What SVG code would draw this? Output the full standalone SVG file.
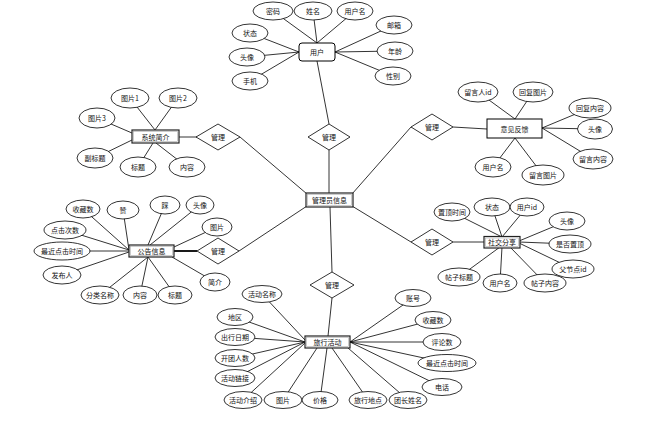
<svg xmlns="http://www.w3.org/2000/svg" width="654" height="427" viewBox="0 0 654 427">
<style>
.l{stroke:#000;stroke-width:0.8;fill:none}
.e{fill:#fff;stroke:#000;stroke-width:0.8}
.d{fill:#fff;stroke:#000;stroke-width:0.8}
.b{fill:#fff;stroke:#222;stroke-width:1.2}
.bi{fill:none;stroke:#999;stroke-width:0.5}
text{font-family:"Noto Sans CJK SC","Noto Sans",sans-serif;font-size:7px;fill:#111;text-anchor:middle;dominant-baseline:central}
</style>
<rect width="654" height="427" fill="#fff"/>
<g id="connectors">
<line class="l" x1="317" y1="43" x2="273" y2="11"/>
<line class="l" x1="317" y1="43" x2="313" y2="11"/>
<line class="l" x1="317" y1="43" x2="355" y2="11"/>
<line class="l" x1="299" y1="52" x2="250" y2="33"/>
<line class="l" x1="299" y1="52" x2="247" y2="57"/>
<line class="l" x1="299" y1="52" x2="250" y2="81"/>
<line class="l" x1="335" y1="52" x2="394" y2="25"/>
<line class="l" x1="335" y1="52" x2="395" y2="51"/>
<line class="l" x1="335" y1="52" x2="393" y2="76"/>
<line class="l" x1="317" y1="61" x2="329" y2="124"/>
<line class="l" x1="155" y1="130" x2="130" y2="98"/>
<line class="l" x1="155" y1="130" x2="178" y2="98"/>
<line class="l" x1="132" y1="133" x2="97" y2="118"/>
<line class="l" x1="132" y1="140" x2="95" y2="158"/>
<line class="l" x1="153" y1="143" x2="138" y2="167"/>
<line class="l" x1="156" y1="143" x2="187" y2="167"/>
<line class="l" x1="179" y1="137" x2="197" y2="137"/>
<line class="l" x1="515" y1="119" x2="478" y2="92"/>
<line class="l" x1="515" y1="119" x2="533" y2="92"/>
<line class="l" x1="542" y1="128" x2="590" y2="108"/>
<line class="l" x1="542" y1="128" x2="595" y2="129"/>
<line class="l" x1="542" y1="128" x2="593" y2="159"/>
<line class="l" x1="515" y1="138" x2="493" y2="167"/>
<line class="l" x1="515" y1="138" x2="543" y2="175"/>
<line class="l" x1="453" y1="127" x2="487" y2="129"/>
<line class="l" x1="129" y1="250" x2="83" y2="209"/>
<line class="l" x1="129" y1="250" x2="123" y2="210"/>
<line class="l" x1="148" y1="245" x2="165" y2="205"/>
<line class="l" x1="150" y1="245" x2="200" y2="205"/>
<line class="l" x1="174" y1="247" x2="217" y2="227"/>
<line class="l" x1="129" y1="250" x2="65" y2="230"/>
<line class="l" x1="129" y1="251" x2="62" y2="251"/>
<line class="l" x1="129" y1="252" x2="62" y2="275"/>
<line class="l" x1="148" y1="257" x2="100" y2="295"/>
<line class="l" x1="148" y1="257" x2="140" y2="295"/>
<line class="l" x1="148" y1="257" x2="175" y2="295"/>
<line class="l" x1="172" y1="257" x2="215" y2="282"/>
<line x1="174" y1="251" x2="197" y2="251" stroke="#000" stroke-width="1.8"/>
<line class="l" x1="502" y1="237" x2="452" y2="212"/>
<line class="l" x1="502" y1="237" x2="492" y2="207"/>
<line class="l" x1="502" y1="237" x2="527" y2="207"/>
<line class="l" x1="519" y1="241" x2="567" y2="221"/>
<line class="l" x1="519" y1="242" x2="570" y2="244"/>
<line class="l" x1="519" y1="243" x2="573" y2="269"/>
<line class="l" x1="510" y1="247" x2="545" y2="283"/>
<line class="l" x1="502" y1="247" x2="500" y2="283"/>
<line class="l" x1="500" y1="247" x2="459" y2="277"/>
<line class="l" x1="453" y1="242" x2="485" y2="242"/>
<line class="l" x1="305" y1="340" x2="262" y2="294"/>
<line class="l" x1="305" y1="342" x2="235" y2="317"/>
<line class="l" x1="305" y1="342" x2="235" y2="337"/>
<line class="l" x1="305" y1="342" x2="235" y2="358"/>
<line class="l" x1="305" y1="342" x2="235" y2="378"/>
<line class="l" x1="305" y1="343" x2="243" y2="400"/>
<line class="l" x1="317" y1="348" x2="283" y2="400"/>
<line class="l" x1="327" y1="348" x2="320" y2="400"/>
<line class="l" x1="332" y1="348" x2="368" y2="400"/>
<line class="l" x1="348" y1="348" x2="408" y2="400"/>
<line class="l" x1="350" y1="342" x2="442" y2="387"/>
<line class="l" x1="350" y1="342" x2="447" y2="363"/>
<line class="l" x1="350" y1="342" x2="442" y2="342"/>
<line class="l" x1="350" y1="342" x2="433" y2="320"/>
<line class="l" x1="350" y1="342" x2="413" y2="298"/>
<line class="l" x1="332" y1="298" x2="328" y2="336"/>
<line class="l" x1="329" y1="193" x2="329" y2="150"/>
<line class="l" x1="307" y1="194" x2="240" y2="137"/>
<line class="l" x1="307" y1="206" x2="239" y2="251"/>
<line class="l" x1="352" y1="194" x2="411" y2="127"/>
<line class="l" x1="352" y1="206" x2="411" y2="242"/>
<line class="l" x1="330" y1="207" x2="332" y2="272"/>
</g>

<g id="admin">
<rect class="b" x="306" y="193" width="47" height="14"/>
<rect class="bi" x="307.5" y="194.5" width="44" height="11"/>
<text x="329.5" y="200">管理员信息</text>
</g>

<g id="user">
<rect x="299" y="43" width="36" height="18" rx="3" fill="#fff" stroke="#000" stroke-width="1"/>
<text x="317" y="52">用户</text>
<ellipse class="e" cx="273" cy="11" rx="20" ry="9"/><text x="273" y="11">密码</text>
<ellipse class="e" cx="313" cy="11" rx="19" ry="9"/><text x="313" y="11">姓名</text>
<ellipse class="e" cx="355" cy="11" rx="18" ry="9"/><text x="355" y="11">用户名</text>
<ellipse class="e" cx="394" cy="25" rx="18" ry="9"/><text x="394" y="25">邮箱</text>
<ellipse class="e" cx="395" cy="51" rx="18" ry="9"/><text x="395" y="51">年龄</text>
<ellipse class="e" cx="393" cy="76" rx="18" ry="9"/><text x="393" y="76">性别</text>
<ellipse class="e" cx="250" cy="33" rx="18" ry="9"/><text x="250" y="33">状态</text>
<ellipse class="e" cx="247" cy="57" rx="18" ry="9"/><text x="247" y="57">头像</text>
<ellipse class="e" cx="250" cy="81" rx="18" ry="9"/><text x="250" y="81">手机</text>
</g>

<g id="rel-user">
<polygon class="d" points="329,124 350,137 329,150 308,137"/>
<text x="329" y="137">管理</text>
</g>

<g id="intro">
<rect class="b" x="132" y="130" width="47" height="13"/>
<rect class="bi" x="133.5" y="131.5" width="44" height="10"/>
<text x="155.5" y="136.5">系统简介</text>
<ellipse class="e" cx="130" cy="98" rx="19" ry="10"/><text x="130" y="98">图片1</text>
<ellipse class="e" cx="178" cy="98" rx="19" ry="10"/><text x="178" y="98">图片2</text>
<ellipse class="e" cx="97" cy="118" rx="18" ry="10"/><text x="97" y="118">图片3</text>
<ellipse class="e" cx="95" cy="158" rx="18" ry="10"/><text x="95" y="158">副标题</text>
<ellipse class="e" cx="138" cy="167" rx="18" ry="10"/><text x="138" y="167">标题</text>
<ellipse class="e" cx="187" cy="167" rx="18" ry="10"/><text x="187" y="167">内容</text>
</g>

<g id="rel-intro">
<polygon class="d" points="218,124 240,137 218,150 196,137"/>
<text x="218" y="137">管理</text>
</g>

<g id="feedback">
<rect x="487" y="119" width="55" height="19" fill="#fff" stroke="#000" stroke-width="1"/>
<text x="514.5" y="128.5">意见反馈</text>
<ellipse class="e" cx="478" cy="92" rx="20" ry="10"/><text x="478" y="92">留言人id</text>
<ellipse class="e" cx="533" cy="92" rx="20" ry="10"/><text x="533" y="92">回复图片</text>
<ellipse class="e" cx="590" cy="108" rx="21" ry="10"/><text x="590" y="108">回复内容</text>
<ellipse class="e" cx="595" cy="129" rx="17.5" ry="10"/><text x="595" y="129">头像</text>
<ellipse class="e" cx="593" cy="159" rx="20" ry="10"/><text x="593" y="159">留言内容</text>
<ellipse class="e" cx="543" cy="175" rx="21" ry="10"/><text x="543" y="175">留言图片</text>
<ellipse class="e" cx="493" cy="167" rx="18" ry="10"/><text x="493" y="167">用户名</text>
</g>

<g id="rel-feedback">
<polygon class="d" points="432,114 453,127 432,140 411,127"/>
<text x="432" y="127">管理</text>
</g>

<g id="notice">
<rect class="b" x="129" y="245" width="45" height="12"/>
<rect class="bi" x="130.5" y="246.5" width="42" height="9"/>
<text x="151.5" y="251">公告信息</text>
<ellipse class="e" cx="83" cy="209" rx="17" ry="9"/><text x="83" y="209">收藏数</text>
<ellipse class="e" cx="123" cy="210" rx="16" ry="9"/><text x="123" y="210">赞</text>
<ellipse class="e" cx="165" cy="205" rx="15" ry="9"/><text x="165" y="205">踩</text>
<ellipse class="e" cx="200" cy="205" rx="14" ry="9"/><text x="200" y="205">头像</text>
<ellipse class="e" cx="217" cy="227" rx="15" ry="9"/><text x="217" y="227">图片</text>
<ellipse class="e" cx="65" cy="230" rx="21" ry="9"/><text x="65" y="230">点击次数</text>
<ellipse class="e" cx="62" cy="251" rx="28" ry="9"/><text x="62" y="251">最近点击时间</text>
<ellipse class="e" cx="62" cy="275" rx="19" ry="9"/><text x="62" y="275">发布人</text>
<ellipse class="e" cx="100" cy="295" rx="19" ry="9"/><text x="100" y="295">分类名称</text>
<ellipse class="e" cx="140" cy="295" rx="17" ry="9"/><text x="140" y="295">内容</text>
<ellipse class="e" cx="175" cy="295" rx="17" ry="9"/><text x="175" y="295">标题</text>
<ellipse class="e" cx="215" cy="282" rx="15" ry="9"/><text x="215" y="282">简介</text>
</g>

<g id="rel-notice">
<polygon class="d" points="218,238 239,251 218,264 197,251"/>
<text x="218" y="251">管理</text>
</g>

<g id="social">
<rect class="b" x="484" y="236.5" width="36" height="11.5"/>
<rect class="bi" x="485.5" y="238" width="33" height="8.5"/>
<text x="502" y="242.3">社交分享</text>
<ellipse class="e" cx="452" cy="212" rx="18" ry="9"/><text x="452" y="212">置顶时间</text>
<ellipse class="e" cx="492" cy="207" rx="18" ry="9"/><text x="492" y="207">状态</text>
<ellipse class="e" cx="527" cy="207" rx="17" ry="9"/><text x="527" y="207">用户id</text>
<ellipse class="e" cx="567" cy="221" rx="18" ry="9"/><text x="567" y="221">头像</text>
<ellipse class="e" cx="570" cy="244" rx="21" ry="9"/><text x="570" y="244">是否置顶</text>
<ellipse class="e" cx="573" cy="269" rx="21" ry="9"/><text x="573" y="269">父节点id</text>
<ellipse class="e" cx="545" cy="283" rx="21" ry="9"/><text x="545" y="283">帖子内容</text>
<ellipse class="e" cx="500" cy="283" rx="17" ry="9"/><text x="500" y="283">用户名</text>
<ellipse class="e" cx="459" cy="277" rx="21" ry="9"/><text x="459" y="277">帖子标题</text>
</g>

<g id="rel-social">
<polygon class="d" points="432,229 453,242 432,255 411,242"/>
<text x="432" y="242">管理</text>
</g>

<g id="travel">
<rect class="b" x="305" y="336" width="45" height="12"/>
<rect class="bi" x="306.5" y="337.5" width="42" height="9"/>
<text x="327.5" y="342">旅行活动</text>
<ellipse class="e" cx="262" cy="294" rx="20" ry="8.5"/><text x="262" y="294">活动名称</text>
<ellipse class="e" cx="235" cy="317" rx="18" ry="8.5"/><text x="235" y="317">地区</text>
<ellipse class="e" cx="235" cy="337" rx="20" ry="8.5"/><text x="235" y="337">出行日期</text>
<ellipse class="e" cx="235" cy="358" rx="20" ry="8.5"/><text x="235" y="358">开团人数</text>
<ellipse class="e" cx="235" cy="378" rx="20" ry="8.5"/><text x="235" y="378">活动链接</text>
<ellipse class="e" cx="243" cy="400" rx="19" ry="8.5"/><text x="243" y="400">活动介绍</text>
<ellipse class="e" cx="283" cy="400" rx="19" ry="8.5"/><text x="283" y="400">图片</text>
<ellipse class="e" cx="320" cy="400" rx="18" ry="8.5"/><text x="320" y="400">价格</text>
<ellipse class="e" cx="368" cy="400" rx="19" ry="8.5"/><text x="368" y="400">旅行地点</text>
<ellipse class="e" cx="408" cy="400" rx="19" ry="8.5"/><text x="408" y="400">团长姓名</text>
<ellipse class="e" cx="442" cy="387" rx="20" ry="8.5"/><text x="442" y="387">电话</text>
<ellipse class="e" cx="447" cy="363" rx="29" ry="8.5"/><text x="447" y="363">最近点击时间</text>
<ellipse class="e" cx="442" cy="342" rx="19" ry="8.5"/><text x="442" y="342">评论数</text>
<ellipse class="e" cx="433" cy="320" rx="18" ry="8.5"/><text x="433" y="320">收藏数</text>
<ellipse class="e" cx="413" cy="298" rx="18" ry="8.5"/><text x="413" y="298">账号</text>
</g>

<g id="rel-travel">
<polygon class="d" points="332,272 354,285 332,298 310,285"/>
<text x="332" y="285">管理</text>
</g>
</svg>
